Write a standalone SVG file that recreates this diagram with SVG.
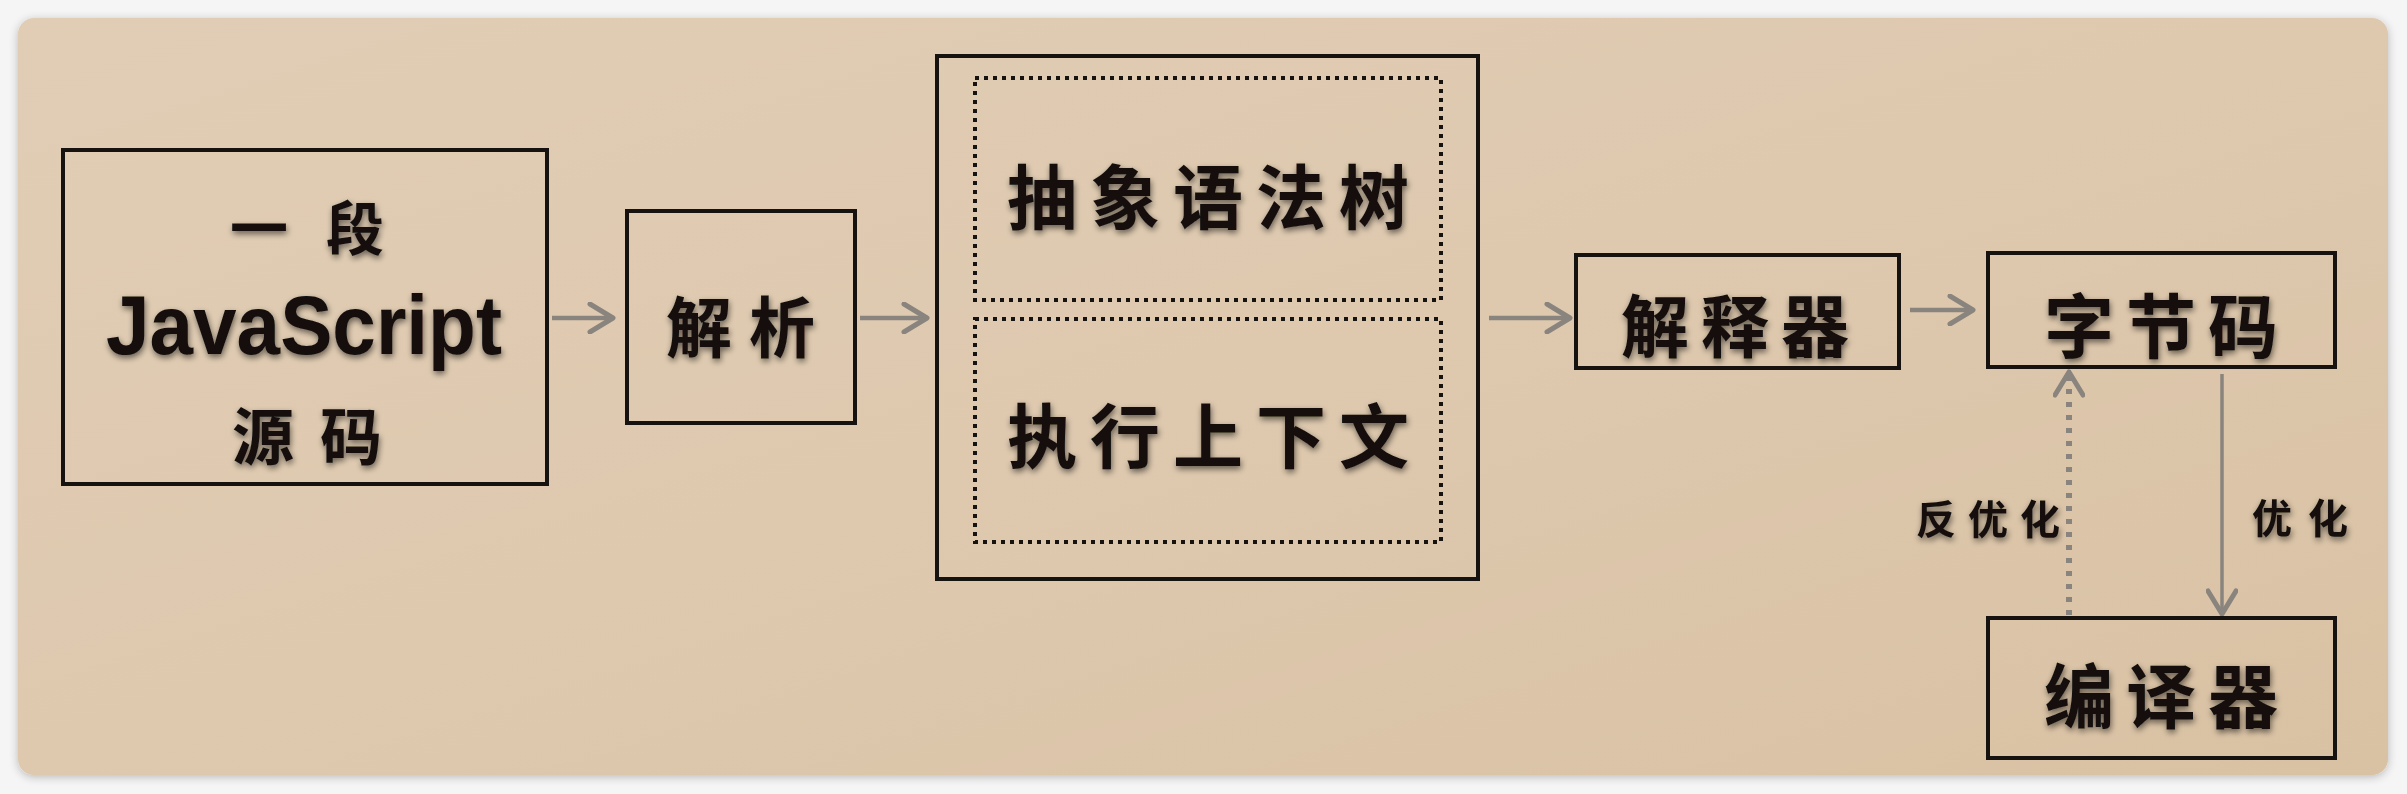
<svg xmlns="http://www.w3.org/2000/svg" width="2407" height="794" viewBox="0 0 2407 794">
<defs>
<linearGradient id="paper" x1="0" y1="0" x2="1" y2="1">
<stop offset="0" stop-color="#e1cdb5"/>
<stop offset="0.5" stop-color="#dec9af"/>
<stop offset="1" stop-color="#d9c1a3"/>
</linearGradient>
<filter id="cardShadow" x="-5%" y="-5%" width="110%" height="110%">
<feGaussianBlur in="SourceAlpha" stdDeviation="5"/>
<feOffset dy="2"/>
<feComponentTransfer><feFuncA type="linear" slope="0.25"/></feComponentTransfer>
<feMerge><feMergeNode/><feMergeNode in="SourceGraphic"/></feMerge>
</filter>
<filter id="ink" x="-10%" y="-20%" width="120%" height="150%">
<feGaussianBlur in="SourceAlpha" stdDeviation="3"/>
<feOffset dx="1" dy="3"/>
<feComponentTransfer><feFuncA type="linear" slope="0.55"/></feComponentTransfer>
<feMerge><feMergeNode/><feMergeNode in="SourceGraphic"/></feMerge>
</filter>
<marker id="chev" viewBox="0 0 30 32" refX="27" refY="16" markerWidth="30" markerHeight="32" markerUnits="userSpaceOnUse" orient="auto">
<path d="M4,2 L27,16 L4,30" fill="none" stroke="#8a847e" stroke-width="5" stroke-linecap="round" stroke-linejoin="round"/>
</marker>
</defs>
<style>
.box{fill:none;stroke:#151210;stroke-width:4}
.dot{fill:none;stroke:#151210;stroke-width:4;stroke-dasharray:4 5}
.cjk{font-family:"Noto Sans CJK SC","Noto Sans CJK JP",sans-serif;font-weight:bold;fill:#120f0d}
.latin{font-family:"Liberation Sans",Arial,sans-serif;font-weight:bold;fill:#120f0d}
.conn{fill:none;stroke:#8a847e;stroke-width:4.5;marker-end:url(#chev)}
.dashed{stroke-width:6;stroke-dasharray:5 8}
.thin{stroke-width:3.5}
</style>
<rect x="0" y="0" width="2407" height="794" fill="#f5f5f5"/>
<rect x="18" y="18" width="2370" height="757" rx="16" fill="url(#paper)" filter="url(#cardShadow)"/>

<g id="connectors">
<line class="conn" x1="552" y1="318" x2="613" y2="318"/>
<line class="conn" x1="860" y1="318" x2="927" y2="318"/>
<line class="conn" x1="1489" y1="318" x2="1570" y2="318"/>
<line class="conn" x1="1910" y1="310" x2="1973" y2="310"/>
<line class="conn dashed" x1="2069" y1="615" x2="2069" y2="372"/>
<line class="conn thin" x1="2222" y1="374" x2="2222" y2="614"/>
<text class="cjk" x="1916" y="534" font-size="40" letter-spacing="12" filter="url(#ink)">反优化</text>
<text class="cjk" x="2252" y="533" font-size="40" letter-spacing="16" filter="url(#ink)">优化</text>
</g>

<g id="source">
<rect class="box" x="63" y="150" width="484" height="334"/>
<text class="cjk" x="230" y="250" font-size="58" letter-spacing="38" filter="url(#ink)">一段</text>
<text class="latin" x="106" y="354" font-size="84" textLength="396" lengthAdjust="spacingAndGlyphs" filter="url(#ink)">JavaScript</text>
<text class="cjk" x="232" y="460" font-size="62" letter-spacing="26" filter="url(#ink)">源码</text>
</g>

<g id="parse">
<rect class="box" x="627" y="211" width="228" height="212"/>
<text class="cjk" x="666" y="352" font-size="66" letter-spacing="17" filter="url(#ink)">解析</text>
</g>

<g id="ast-context">
<rect class="box" x="937" y="56" width="541" height="523"/>
<g id="ast">
<rect class="dot" x="975" y="78" width="466" height="222"/>
<text class="cjk" x="1007" y="224" font-size="70" letter-spacing="13" filter="url(#ink)">抽象语法树</text>
</g>
<g id="context">
<rect class="dot" x="975" y="319" width="466" height="223"/>
<text class="cjk" x="1007" y="463" font-size="70" letter-spacing="13" filter="url(#ink)">执行上下文</text>
</g>
</g>

<g id="interpreter">
<rect class="box" x="1576" y="255" width="323" height="113"/>
<text class="cjk" x="1621" y="352" font-size="68" letter-spacing="12" filter="url(#ink)">解释器</text>
</g>

<g id="bytecode">
<rect class="box" x="1988" y="253" width="347" height="114"/>
<text class="cjk" x="2044" y="353" font-size="70" letter-spacing="12" filter="url(#ink)">字节码</text>
</g>

<g id="compiler">
<rect class="box" x="1988" y="618" width="347" height="140"/>
<text class="cjk" x="2044" y="723" font-size="70" letter-spacing="12" filter="url(#ink)">编译器</text>
</g>
</svg>
